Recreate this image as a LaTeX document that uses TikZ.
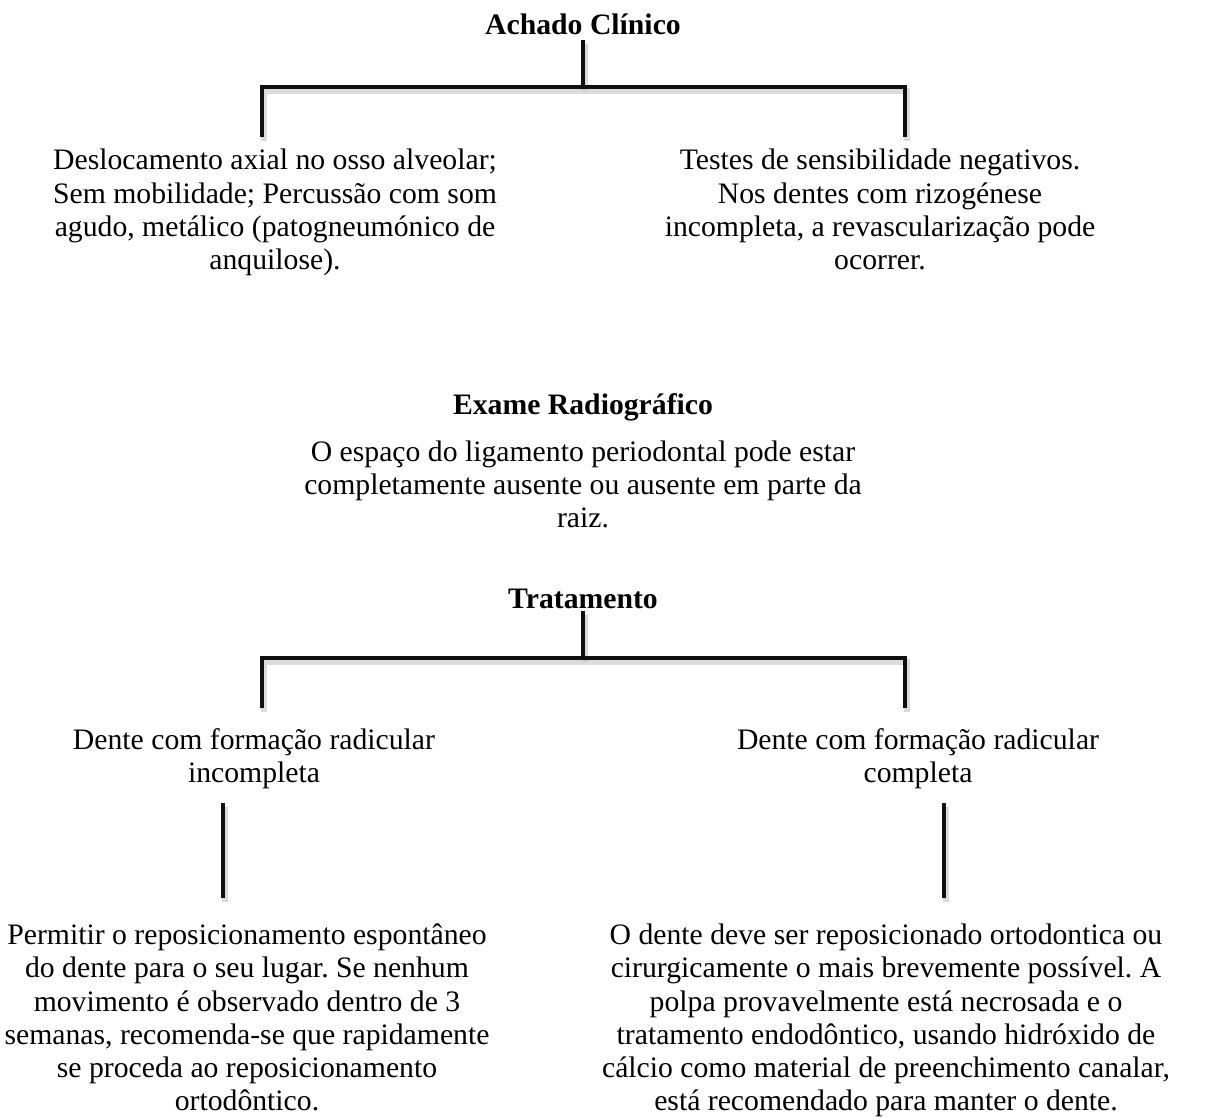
\documentclass[tikz,border=0pt]{standalone}
\usepackage{fontspec}
\setmainfont{Liberation Serif}
\frenchspacing
\usetikzlibrary{positioning, calc}
\definecolor{mydark}{RGB}{15,15,15}
\definecolor{myshade}{RGB}{190,190,190}
\tikzset{
  heading/.style={font=\fontsize{12}{13.4}\selectfont\bfseries, inner sep=0pt},
  bodytext/.style={font=\fontsize{12}{13.4}\selectfont, align=center, inner sep=0pt},
  bar/.style={line width=1.65pt, color=mydark,
    preaction={draw=myshade, line width=2.6pt, opacity=0.55,
      transform canvas={xshift=0.9pt, yshift=-1.6pt}}}
}

\begin{document}
\begin{tikzpicture}[x=0.404pt, y=-0.404pt]
  \useasboundingbox (0,0) rectangle (1210,1117);

  % ── Achado clínico ────────────────────────────────────────────────────────
  \node[heading] (achado) at (583,24) {Achado Clínico};
  \node[bodytext] (clinL) at (275,213) {\strut Deslocamento axial no osso alveolar;\\
    Sem mobilidade; Percussão com som\\agudo, metálico (patogneumónico de\\anquilose).\strut};
  \node[bodytext] (clinR) at (880,213) {\strut Testes de sensibilidade negativos.\\
    Nos dentes com rizogénese\\incompleta, a revascularização pode\\ocorrer.\strut};
  % Bracket
  \coordinate (achadoJ) at (583,87);
  \coordinate (achadoL) at (262,87);
  \coordinate (achadoR) at (905,87);
  \coordinate (clinLtop) at (262,137);
  \coordinate (clinRtop) at (905,137);
  \draw[bar] (achado.south) ++(0,5) -- (achadoJ);
  \draw[bar] (clinLtop) -- (achadoL) -- (achadoR) -- (clinRtop);

  % ── Exame radiográfico ────────────────────────────────────────────────────
  \node[heading] (exame) at (583,407) {Exame Radiográfico};
  \node[bodytext] (radio) at (583,488) {\strut O espaço do ligamento periodontal pode estar\\
    completamente ausente ou ausente em parte da\\raiz.\strut};

  % ── Tratamento ────────────────────────────────────────────────────────────
  \node[heading] (trat) at (583,599) {Tratamento};
  \node[bodytext] (denteL) at (254,759) {\strut Dente com formação radicular\\incompleta\strut};
  \node[bodytext] (denteR) at (918,759) {\strut Dente com formação radicular\\completa\strut};
  % Bracket
  \coordinate (tratJ) at (583,658);
  \coordinate (tratL) at (262,658);
  \coordinate (tratR) at (905,658);
  \coordinate (denteLtop) at (262,708);
  \coordinate (denteRtop) at (905,708);
  \draw[bar] (trat.south) ++(0,2) -- (tratJ);
  \draw[bar] (denteLtop) -- (tratL) -- (tratR) -- (denteRtop);

  % Conduct for each case
  \node[bodytext] (condL) at (247,1021) {\strut Permitir o reposicionamento espontâneo\\
    do dente para o seu lugar. Se nenhum\\movimento é observado dentro de 3\\
    semanas, recomenda-se que rapidamente\\se proceda ao reposicionamento\\ortodôntico.\strut};
  \node[bodytext] (condR) at (886,1021) {\strut O dente deve ser reposicionado ortodontica ou\\
    cirurgicamente o mais brevemente possível. A\\polpa provavelmente está necrosada e o\\
    tratamento endodôntico, usando hidróxido de\\cálcio como material de preenchimento canalar,\\
    está recomendado para manter o dente.\strut};
  \coordinate (stemLtop) at (223,803);
  \coordinate (stemLbot) at (223,898);
  \coordinate (stemRtop) at (944,803);
  \coordinate (stemRbot) at (944,898);
  \draw[bar] (stemLtop) -- (stemLbot);
  \draw[bar] (stemRtop) -- (stemRbot);
\end{tikzpicture}
\end{document}
